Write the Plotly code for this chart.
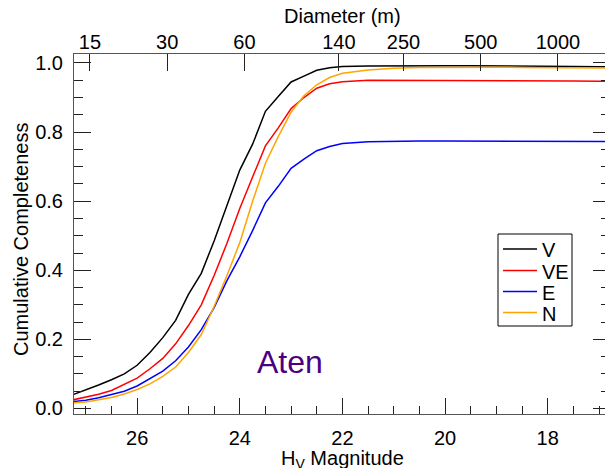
import numpy as np
import plotly.graph_objects as go

# ---------------- data ----------------
H_mag = [27.25, 27.0, 26.75, 26.5, 26.25, 26.0, 25.75, 25.5, 25.25, 25.0,
         24.75, 24.5, 24.25, 24.0, 23.75, 23.5, 23.25, 23.0, 22.75, 22.5,
         22.25, 22.0, 21.5, 21.0, 20.5, 20.0, 19.5, 19.0, 18.5, 18.0,
         17.5, 17.0, 16.75]

comp_V = [0.040, 0.053, 0.068, 0.083, 0.100, 0.125, 0.162, 0.205, 0.255, 0.330,
          0.391, 0.485, 0.585, 0.690, 0.765, 0.860, 0.903, 0.945, 0.962, 0.979,
          0.986, 0.990, 0.991, 0.992, 0.992, 0.992, 0.992, 0.992, 0.991, 0.991,
          0.990, 0.989, 0.989]

comp_VE = [0.025, 0.032, 0.041, 0.052, 0.069, 0.088, 0.115, 0.145, 0.187, 0.240,
           0.300, 0.385, 0.478, 0.579, 0.670, 0.760, 0.812, 0.868, 0.900, 0.927,
           0.940, 0.946, 0.950, 0.950, 0.950, 0.950, 0.950, 0.950, 0.949, 0.949,
           0.948, 0.947, 0.947]

comp_E = [0.020, 0.024, 0.031, 0.040, 0.050, 0.065, 0.086, 0.108, 0.138, 0.178,
          0.228, 0.292, 0.370, 0.439, 0.515, 0.595, 0.643, 0.695, 0.722, 0.746,
          0.758, 0.767, 0.772, 0.774, 0.774, 0.774, 0.774, 0.774, 0.774, 0.774,
          0.773, 0.773, 0.773]

comp_N = [0.016, 0.019, 0.025, 0.032, 0.042, 0.055, 0.071, 0.093, 0.120, 0.162,
          0.214, 0.295, 0.385, 0.480, 0.600, 0.710, 0.787, 0.858, 0.905, 0.937,
          0.958, 0.970, 0.980, 0.985, 0.987, 0.988, 0.988, 0.988, 0.987, 0.987,
          0.986, 0.985, 0.985]

series_names = ["V", "VE", "E", "N"]
series_colors = ["#000000", "#FF0000", "#0000FF", "#FFA500"]

bottom_ticks = [26, 24, 22, 20, 18]
diam_ticks_m = [15, 30, 60, 140, 250, 500, 1000]
H_1km = 17.8  # H magnitude corresponding to 1 km diameter

# ---------------- layout helpers ----------------
# the reference plot frame extends slightly beyond the 605 px window (right edge ~610)
W, HGT = 611, 468
L, R, T, B = 74, 610, 54, 414
def px_x(xp):
    return (xp - L) / (R - L)
def px_y(yp):
    return (B - yp) / (B - T)

FONT = "Liberation Sans, Arial, sans-serif"
FS = 20
x_range = [27.23, 16.786]
y_range = [-0.016, 1.026]

fig = go.Figure()
for name, col, vals in zip(series_names, series_colors,
                           [comp_V, comp_VE, comp_E, comp_N]):
    fig.add_trace(go.Scatter(x=H_mag, y=vals, mode="lines", name=name,
                             line=dict(color=col, width=1.5), showlegend=False))

# dummy trace to activate top axis
fig.add_trace(go.Scatter(x=x_range, y=[None, None], xaxis="x2", mode="lines",
                         showlegend=False, hoverinfo="skip"))

diam_H = [H_1km + 5 * np.log10(1000.0 / d) for d in diam_ticks_m]

axis_common = dict(showline=True, linecolor="#555", linewidth=1,
                   ticks="inside", tickcolor="#222", tickwidth=1,
                   showgrid=False, zeroline=False, automargin=False,
                   tickfont=dict(family=FONT, size=FS, color="black"))

# legend drawn as a framed box with line samples and labels
leg_left, leg_right, leg_top, leg_bottom = 498, 572, 234, 326
leg_rows = [249, 270.5, 291.5, 312.5]
shapes = [dict(type="rect", xref="paper", yref="paper",
               x0=px_x(leg_left), x1=px_x(leg_right),
               y0=px_y(leg_bottom), y1=px_y(leg_top),
               line=dict(color="black", width=1), fillcolor="white")]
annotations = []
for name, col, yr in zip(series_names, series_colors, leg_rows):
    shapes.append(dict(type="line", xref="paper", yref="paper",
                       x0=px_x(503), x1=px_x(537), y0=px_y(yr), y1=px_y(yr),
                       line=dict(color=col, width=1.5)))
    annotations.append(dict(text=name, x=px_x(540), y=px_y(yr + 1), xref="paper",
                            yref="paper", xanchor="left", yanchor="middle",
                            showarrow=False,
                            font=dict(family=FONT, size=FS, color="black")))

annotations += [
    dict(text="Diameter (m)", x=px_x(342), y=px_y(16), xref="paper", yref="paper",
         xanchor="center", yanchor="middle", showarrow=False,
         font=dict(family=FONT, size=FS, color="black")),
    dict(text="H<sub>V</sub> Magnitude", x=px_x(342), y=px_y(459), xref="paper",
         yref="paper", xanchor="center", yanchor="middle", showarrow=False,
         font=dict(family=FONT, size=FS, color="black")),
    dict(text="Cumulative Completeness", x=px_x(21), y=px_y(240), xref="paper",
         yref="paper", xanchor="center", yanchor="middle", textangle=-90,
         showarrow=False, font=dict(family=FONT, size=FS, color="black")),
    dict(text="Aten", x=px_x(290), y=px_y(362), xref="paper", yref="paper",
         xanchor="center", yanchor="middle", showarrow=False,
         font=dict(family=FONT, size=32, color="#4B0082")),
]

fig.update_layout(
    width=W, height=HGT,
    margin=dict(l=L, r=W - R, t=T, b=HGT - B, autoexpand=False),
    paper_bgcolor="white", plot_bgcolor="white",
    font=dict(family=FONT, size=FS, color="black"),
    xaxis=dict(range=x_range, tickvals=bottom_ticks, ticklen=16,
               minor=dict(dtick=0.5, ticklen=8, ticks="inside", tickcolor="#222"),
               ticklabelstandoff=6, **axis_common),
    xaxis2=dict(range=x_range, overlaying="x", side="top", anchor="y",
                tickvals=diam_H, ticktext=[str(d) for d in diam_ticks_m],
                ticklen=17, ticklabelstandoff=-4, **axis_common),
    yaxis=dict(range=y_range, tickvals=[0, 0.2, 0.4, 0.6, 0.8, 1.0],
               tickformat=".1f", ticklen=17, mirror="ticks",
               minor=dict(dtick=0.05, ticklen=9, ticks="inside", tickcolor="#222"),
               ticklabelstandoff=6, **axis_common),
    showlegend=False,
    shapes=shapes,
    annotations=annotations,
)

fig.write_html("out.html",
               config={"displayModeBar": False, "staticPlot": True},
               post_script="document.body.style.margin='0';"
                           "document.body.style.overflow='hidden';")
